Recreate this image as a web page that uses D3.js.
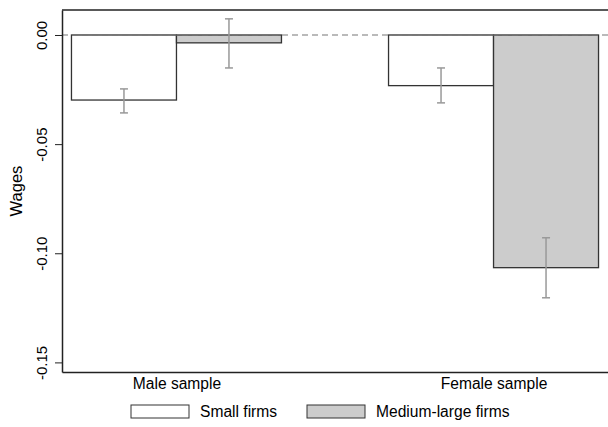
<!DOCTYPE html>
<html>
<head>
<meta charset="utf-8">
<script src="https://cdn.jsdelivr.net/npm/d3@7"></script>
<style>
  body { margin: 0; background: #fff; }
  text { font-family: "Liberation Sans", Arial, sans-serif; }
</style>
</head>
<body>
<svg id="chart" width="608" height="427"></svg>
<script>
// data
var groups = ["Male sample", "Female sample"];
var series = ["Small firms", "Medium-large firms"];
var fills = ["#ffffff", "#cccccc"];
var estimates = [[-0.0298, -0.0036], [-0.0232, -0.1066]];
var ciLow = [[-0.0357, -0.0151], [-0.0311, -0.1204]];
var ciHigh = [[-0.0247, 0.0074], [-0.0151, -0.0929]];
var yTicks = [0, -0.05, -0.10, -0.15];

var svg = d3.select("#chart"),
    plotL = 62, plotR = 608, plotT = 10, plotB = 372;

var y = d3.scaleLinear().domain([0.01145, -0.1544]).range([plotT, plotB]);
var x = d3.scalePoint().domain(groups).range([plotL, plotR]).padding(0.361);
var xs = d3.scaleBand().domain(series).range([-105, 105]).padding(0);

// top border
svg.append("line").attr("x1", plotL).attr("x2", plotR).attr("y1", plotT).attr("y2", plotT)
  .attr("stroke", "#222").attr("stroke-width", 1.5);

// bars
var g = svg.selectAll("g.grp").data(groups).enter().append("g")
  .attr("class", "grp")
  .attr("transform", function(d) { return "translate(" + x(d) + ",0)"; });

g.each(function(grp, gi) {
  var sel = d3.select(this);
  series.forEach(function(s, si) {
    var v = estimates[gi][si];
    sel.append("rect")
      .attr("x", xs(s))
      .attr("width", xs.bandwidth())
      .attr("y", y(Math.max(0, v)))
      .attr("height", Math.abs(y(v) - y(0)))
      .attr("fill", fills[si])
      .attr("stroke", "#333")
      .attr("stroke-width", 1.3);
  });
});

// zero line
svg.append("line").attr("x1", plotL).attr("x2", plotR).attr("y1", y(0)).attr("y2", y(0))
  .attr("stroke", "#777").attr("stroke-width", 1.2).attr("stroke-dasharray", "6,4");

// error bars
g.each(function(grp, gi) {
  var sel = d3.select(this);
  series.forEach(function(s, si) {
    var cx = xs(s) + xs.bandwidth() / 2;
    var lo = ciLow[gi][si], hi = ciHigh[gi][si];
    sel.append("line").attr("x1", cx).attr("x2", cx).attr("y1", y(hi)).attr("y2", y(lo))
      .attr("stroke", "#999").attr("stroke-width", 1.5);
    [lo, hi].forEach(function(v) {
      sel.append("line").attr("x1", cx - 4).attr("x2", cx + 4).attr("y1", y(v)).attr("y2", y(v))
        .attr("stroke", "#999").attr("stroke-width", 1.5);
    });
  });
});

// y axis
var fmt = function(d) { return d3.format(".2f")(d).replace("\u2212", "-"); };
var yAxis = svg.append("g").attr("transform", "translate(" + plotL + ",0)")
  .call(d3.axisLeft(y).tickValues(yTicks).tickFormat(fmt).tickSize(7).tickSizeOuter(0));
yAxis.select(".domain").attr("stroke", "#222").attr("stroke-width", 1.5);
yAxis.selectAll(".tick line").attr("stroke", "#222");
yAxis.selectAll(".tick text")
  .attr("font-size", 15).attr("fill", "#000")
  .attr("x", 0).attr("dy", 0).attr("text-anchor", "middle")
  .attr("transform", "translate(-15,0) rotate(-90)");

svg.append("text").attr("transform", "translate(22," + (plotT + plotB) / 2 + ") rotate(-90)")
  .attr("text-anchor", "middle").attr("font-size", 16.5).text("Wages");

// x axis
var xAxis = svg.append("g").attr("transform", "translate(0," + plotB + ")")
  .call(d3.axisBottom(x).tickSize(0));
xAxis.select(".domain").attr("stroke", "#222").attr("stroke-width", 1.5);
xAxis.selectAll(".tick text").attr("font-size", 15.6).attr("fill", "#000")
  .attr("y", 17).attr("dy", 0);

// legend
var legX = [131, 307];
series.forEach(function(s, i) {
  svg.append("rect").attr("x", legX[i]).attr("y", 405).attr("width", 58).attr("height", 13)
    .attr("fill", fills[i]).attr("stroke", "#333").attr("stroke-width", 1);
  svg.append("text").attr("x", legX[i] + 69).attr("y", 417).attr("font-size", 15.6).text(s);
});
</script>
</body>
</html>
